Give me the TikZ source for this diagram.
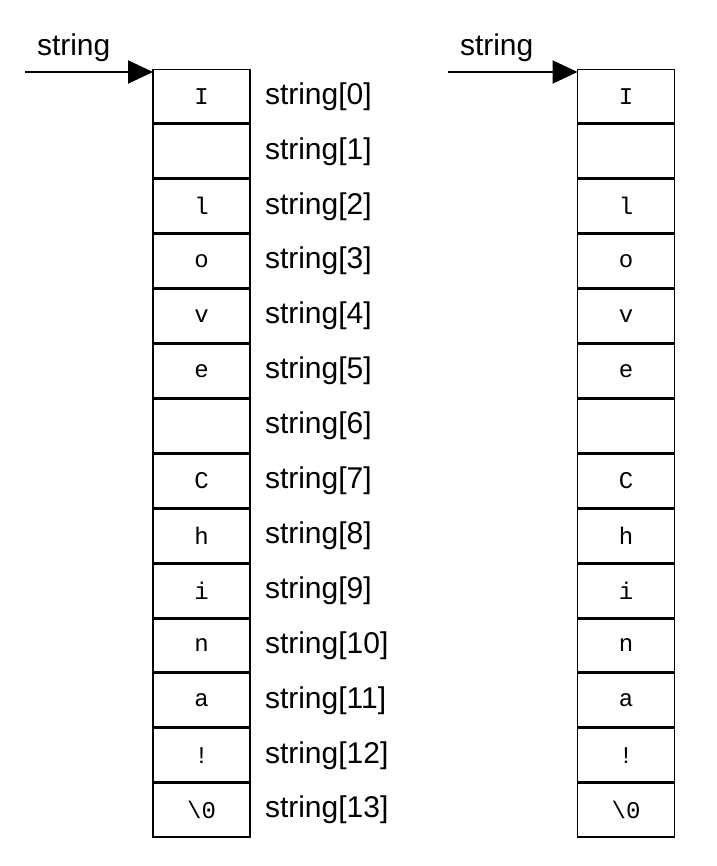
\documentclass[tikz,border=0pt]{standalone}
\usepackage{fontspec}
\newfontfamily\labelfont{Liberation Sans}
\newfontfamily\cellfont{Liberation Mono}
\usetikzlibrary{positioning, arrows.meta}
\tikzset{
  cell/.style={draw, line width=1.5pt, minimum width=97pt, minimum height=53.4pt,
    inner sep=0, outer sep=0, font=\cellfont\fontsize{24}{24}\selectfont},
  idx/.style={font=\labelfont\fontsize{30}{32}\selectfont, inner sep=0, outer sep=0},
  ptr/.style={line width=2pt, -{Triangle[length=25pt,width=23pt]}}
}
\begin{document}
\begin{tikzpicture}[x=1pt, y=-1pt]
  \useasboundingbox (0,0) rectangle (716,866);

  % the two arrays
  \foreach \c [count=\i from 0] in {I,{},l,o,v,e,{},C,h,i,n,a,!,\textbackslash0} {
    \node [cell] (l\i) at (201.5,{96.45+\i*54.9}) {\c};
    \node [idx, right=15pt of l\i] (n\i) {string[\i]};
    \node [cell] (r\i) at (626,{96.45+\i*54.9}) {\c};
  }

  % pointers
  \coordinate (startL) at (25,72);
  \coordinate (startR) at (448,72);
  \draw [ptr] (startL) -- (l0.west |- startL);
  \draw [ptr] (startR) -- (r0.west |- startR);
  \node [idx, anchor=base west] (pL) at (37,56) {string};
  \node [idx, anchor=base west] (pR) at (460,56) {string};
\end{tikzpicture}
\end{document}
